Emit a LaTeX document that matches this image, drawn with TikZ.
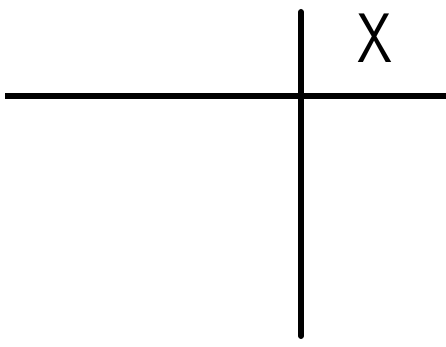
\documentclass[tikz,border=0pt]{standalone}
\usepackage{tikz}
\usetikzlibrary{positioning}

\begin{document}
\begin{tikzpicture}[
  x=1pt, y=1pt,
  axis/.style={line width=6pt, black},
  lbl/.style={font=\sffamily\fontsize{70}{70}\selectfont, inner sep=0pt, xscale=0.8}
]
\useasboundingbox (0,0) rectangle (446,347);
\coordinate (hleft) at (5,251);
\coordinate (hright) at (446,251);
\coordinate (vtop) at (301,335);
\coordinate (vbot) at (301,11);
\node[lbl] (xlabel) at (375,309) {X};

\draw[axis] (hleft) -- (hright);
\draw[axis, line cap=round] (vtop) -- (vbot);
\end{tikzpicture}
\end{document}
